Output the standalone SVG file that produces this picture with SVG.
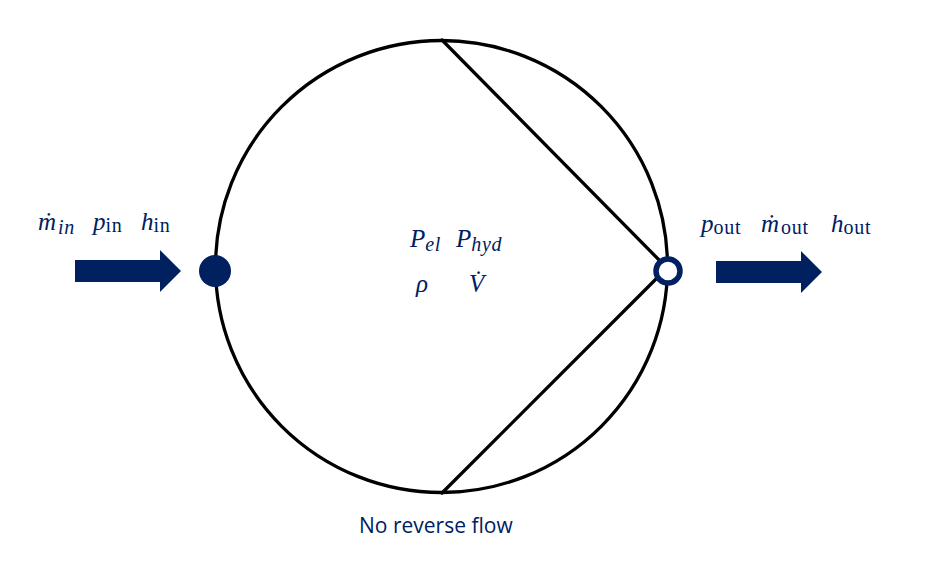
<svg xmlns="http://www.w3.org/2000/svg" width="941" height="578" viewBox="0 0 941 578">
<style>
.l{fill:none;stroke:#000;stroke-width:3.300;stroke-linecap:round}
.a{fill:#002060}
.m{font-family:"Liberation Serif","DejaVu Serif",serif;font-size:25px;fill:#002060}
.i{font-style:italic}
.s{font-size:20px;letter-spacing:.7px}
.t{font-family:"Open Sans","Noto Sans",sans-serif;font-size:21px;fill:#002060}
</style>
<rect width="941" height="578" fill="#fff"/>
<g id="connectors">
<path class="l" d="M442 40L665 266M442 493L665 270"/>
<path class="a" d="M75 260H160V250L181 271L160 292V282H75Z"/>
<path class="a" d="M716 261H801V251L822 272L801 293V283H716Z"/>
</g>
<g id="node-body"><circle class="l" cx="441.500" cy="266.500" r="226"/></g>
<g id="node-inlet"><circle class="a" cx="215" cy="271" r="16"/></g>
<g id="node-outlet"><circle cx="668" cy="271" r="12" fill="#fff" stroke="#002060" stroke-width="5.500"/></g>
<g id="labels-inlet">
<text class="m i" x="38" y="230">ṁ<tspan class="s" dx="2" dy="4">in</tspan></text>
<text class="m" x="93" y="230"><tspan class="i">p</tspan><tspan class="s" dy="2">in</tspan></text>
<text class="m" x="141" y="230"><tspan class="i">h</tspan><tspan class="s" dy="2">in</tspan></text>
</g>
<g id="labels-body">
<text class="m" x="410" y="247"><tspan class="i">P</tspan><tspan class="s i" dy="4">el</tspan></text>
<text class="m" x="456" y="247"><tspan class="i">P</tspan><tspan class="s i" dy="4">hyd</tspan></text>
<text class="m i" x="416" y="292">ρ</text>
<text class="m i" x="469" y="292">V̇</text>
</g>
<g id="labels-outlet">
<text class="m" x="701" y="232"><tspan class="i">p</tspan><tspan class="s" dy="2">out</tspan></text>
<text class="m" x="761" y="232"><tspan class="i">ṁ</tspan><tspan class="s" dx="2" dy="2">out</tspan></text>
<text class="m" x="831" y="232"><tspan class="i">h</tspan><tspan class="s" dy="2">out</tspan></text>
</g>
<text class="t" x="359" y="533">No reverse flow</text>
</svg>
